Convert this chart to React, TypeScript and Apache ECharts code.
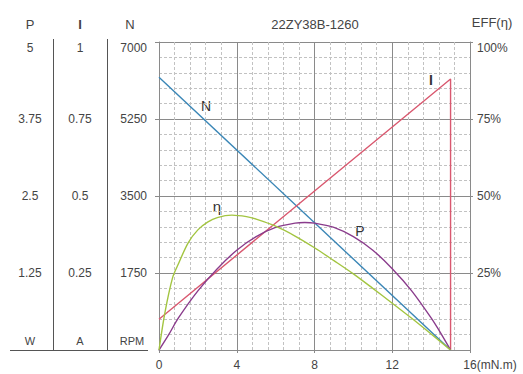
import React, { useEffect, useRef } from "react";
import * as echarts from "echarts";

// Torque (mN.m) on x axis
const speedN: number[][] = [
  [0, 6200],
  [15, 0],
];
const currentI: number[][] = [
  [0, 0.1],
  [15, 0.88],
  [15, 0],
];
const powerP: number[][] = [
  [0, 0], [0.5, 0.25], [1, 0.52], [2, 0.96], [3, 1.32], [4, 1.62], [5, 1.84],
  [6, 1.99], [7, 2.06], [7.5, 2.07], [8, 2.06], [9, 1.99], [10, 1.84], [11, 1.62],
  [12, 1.32], [13, 0.96], [14, 0.52], [14.5, 0.27], [15, 0],
];
const effEta: number[][] = [
  [0, 0], [0.3, 12], [0.7, 23.5], [1, 28], [1.5, 34.8], [2, 39], [2.5, 41.5],
  [3, 43], [3.75, 43.8], [4.5, 43.3], [5, 42.5], [6, 40.2], [7, 37], [8, 33.2],
  [9, 29], [10, 24.7], [11, 20], [12, 15.2], [13, 10.3], [14, 5.2], [15, 0],
];

const xTicks = { min: 0, max: 16, interval: 4 };
const nTicks = { min: 0, max: 7000, interval: 1750 };
const pTicks = { min: 0, max: 5, interval: 1.25 };
const iTicks = { min: 0, max: 1, interval: 0.25 };
const effTicks = { min: 0, max: 100, interval: 25 };

const title = "22ZY38B-1260";
const xUnit = "(mN.m)";
const headers = ["P", "I", "N"];
const units = ["W", "A", "RPM"];

const FONT = "'Liberation Sans', Arial, Helvetica, sans-serif";
const TXT = "#444";
const MAJOR = "#8a8a8a";
const MINOR = "#c2c2c2";

export default function App() {
  const ref = useRef<HTMLDivElement>(null);
  useEffect(() => {
    if (!ref.current) return;
    const chart = echarts.init(ref.current, null, { renderer: "svg" });
    const labelStyle = { color: TXT, fontSize: 12, fontFamily: FONT };
    const topFmt = (max: number, fmt: (v: number) => string) => (v: number) =>
      v === max ? `{t|${fmt(v)}}` : fmt(v);
    const rich = { t: { ...labelStyle, padding: [12, 0, 0, 0] } };

    chart.setOption({
      animation: false,
      textStyle: { fontFamily: FONT },
      grid: { left: 159, top: 42, width: 311, height: 308, containLabel: false },
      xAxis: {
        type: "value",
        ...xTicks,
        axisLine: { show: true, lineStyle: { color: MAJOR } },
        axisTick: { show: true, length: 3, lineStyle: { color: MAJOR } },
        axisLabel: {
          ...labelStyle,
          margin: 9,
          formatter: (v: number) => (v === xTicks.max ? `{a|${v}}{b|${xUnit}}` : String(v)),
          rich: {
            a: { ...labelStyle, padding: [0, 0, 0, 40] },
            b: { ...labelStyle },
          },
        },
        splitLine: { show: true, lineStyle: { color: MAJOR, width: 1 } },
        minorTick: { show: false, splitNumber: 5 },
        minorSplitLine: { show: true, lineStyle: { color: MINOR, type: [3, 2], width: 1 } },
      },
      yAxis: [
        {
          type: "value",
          position: "left",
          ...nTicks,
          axisLine: { show: true, lineStyle: { color: MAJOR } },
          axisTick: { show: true, length: 4, lineStyle: { color: MAJOR } },
          axisLabel: {
            ...labelStyle,
            margin: 12,
            showMinLabel: false,
            formatter: topFmt(nTicks.max, (v) => String(v)),
            rich,
          },
          splitLine: { show: true, lineStyle: { color: MAJOR, width: 1 } },
          minorTick: { show: false, splitNumber: 5 },
          minorSplitLine: { show: true, lineStyle: { color: MINOR, type: [3, 2], width: 1 } },
        },
        {
          type: "value",
          position: "left",
          ...pTicks,
          axisLine: { show: false },
          axisTick: { show: false },
          splitLine: { show: false },
          axisLabel: {
            ...labelStyle,
            margin: 129,
            align: "center",
            showMinLabel: false,
            formatter: topFmt(pTicks.max, (v) => String(v)),
            rich,
          },
        },
        {
          type: "value",
          position: "left",
          ...iTicks,
          axisLine: { show: false },
          axisTick: { show: false },
          splitLine: { show: false },
          axisLabel: {
            ...labelStyle,
            margin: 79,
            align: "center",
            showMinLabel: false,
            formatter: topFmt(iTicks.max, (v) => String(v)),
            rich,
          },
        },
        {
          type: "value",
          position: "right",
          ...effTicks,
          axisLine: { show: true, lineStyle: { color: MAJOR } },
          axisTick: { show: true, length: 3, lineStyle: { color: MAJOR } },
          splitLine: { show: false },
          axisLabel: {
            ...labelStyle,
            margin: 7,
            showMinLabel: false,
            formatter: topFmt(effTicks.max, (v) => `${v}%`),
            rich,
          },
        },
      ],
      series: [
        {
          name: "N",
          type: "line",
          yAxisIndex: 0,
          data: speedN,
          showSymbol: false,
          lineStyle: { color: "#3a86b6", width: 1.4 },
          z: 3,
        },
        {
          name: "I",
          type: "line",
          yAxisIndex: 2,
          data: currentI,
          showSymbol: false,
          lineStyle: { color: "#d9586f", width: 1.4 },
          z: 3,
        },
        {
          name: "P",
          type: "line",
          yAxisIndex: 1,
          data: powerP,
          smooth: 0.3,
          showSymbol: false,
          lineStyle: { color: "#8a3c8c", width: 1.4 },
          z: 3,
        },
        {
          name: "η",
          type: "line",
          yAxisIndex: 3,
          data: effEta,
          smooth: 0.3,
          showSymbol: false,
          lineStyle: { color: "#a3c541", width: 1.4 },
          z: 3,
        },
      ],
      graphic: [
        { type: "line", shape: { x1: 53.5, y1: 39, x2: 53.5, y2: 350.5 }, style: { stroke: "#555", lineWidth: 1 } },
        { type: "line", shape: { x1: 107.5, y1: 39, x2: 107.5, y2: 350.5 }, style: { stroke: "#555", lineWidth: 1 } },
        { type: "line", shape: { x1: 10, y1: 350.5, x2: 148, y2: 350.5 }, style: { stroke: "#555", lineWidth: 1 } },
        ...headers.map((h, i) => ({
          type: "text",
          x: [30, 80, 130][i],
          y: 24,
          style: {
            text: h,
            fill: TXT,
            fontSize: 13,
            fontFamily: FONT,
            fontWeight: h === "I" ? "bold" : "normal",
            align: "center",
            verticalAlign: "middle",
          },
        })),
        ...units.map((u, i) => ({
          type: "text",
          x: [30, 80, 132][i],
          y: 341,
          style: { text: u, fill: TXT, fontSize: 11, fontFamily: FONT, align: "center", verticalAlign: "middle" },
        })),
        {
          type: "text",
          x: 315,
          y: 24,
          style: { text: title, fill: TXT, fontSize: 13, fontFamily: FONT, align: "center", verticalAlign: "middle" },
        },
        {
          type: "text",
          x: 492,
          y: 22,
          style: { text: "EFF(η)", fill: TXT, fontSize: 13, fontFamily: FONT, align: "center", verticalAlign: "middle" },
        },
        {
          type: "text",
          x: 206,
          y: 106,
          style: { text: "N", fill: "#333", fontSize: 14, fontFamily: FONT, align: "center", verticalAlign: "middle" },
        },
        {
          type: "text",
          x: 431,
          y: 80,
          style: { text: "I", fill: "#333", fontSize: 14, fontWeight: "bold", fontFamily: FONT, align: "center", verticalAlign: "middle" },
        },
        {
          type: "text",
          x: 217,
          y: 206,
          style: { text: "η", fill: "#333", fontSize: 15, fontFamily: FONT, align: "center", verticalAlign: "middle" },
        },
        {
          type: "text",
          x: 360,
          y: 231,
          style: { text: "P", fill: "#333", fontSize: 14, fontFamily: FONT, align: "center", verticalAlign: "middle" },
        },
      ],
    });
    return () => chart.dispose();
  }, []);
  return (
    <div
      ref={ref}
      style={{ position: "fixed", left: 0, top: 0, width: 523, height: 374, background: "#fff" }}
    />
  );
}
